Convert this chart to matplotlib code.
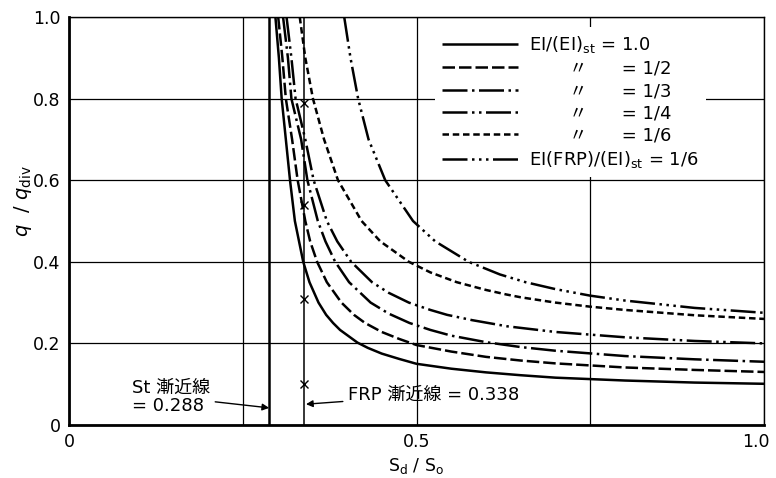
import matplotlib
matplotlib.use('Agg')
import matplotlib.pyplot as plt
import matplotlib.transforms as mtransforms

plt.rcParams['font.family'] = ['DejaVu Sans', 'Noto Sans CJK JP']
plt.rcParams['mathtext.fontset'] = 'dejavusans'

# asymptotes
st_asym = 0.288
frp_asym = 0.338
frp_marks_q = [0.79, 0.54, 0.31, 0.10]

# EI/(EI)st = 1.0
x_10 = [0.297, 0.302, 0.306, 0.312, 0.318, 0.325, 0.331, 0.337, 0.346, 0.359, 0.370, 0.380, 0.390,
        0.415, 0.430, 0.450, 0.475, 0.500, 0.550, 0.600, 0.650, 0.700, 0.800, 0.900, 1.000]
q_10 = [1.00, 0.90, 0.80, 0.70, 0.60, 0.50, 0.45, 0.40, 0.35, 0.30, 0.27, 0.25, 0.233,
        0.202, 0.189, 0.175, 0.162, 0.150, 0.138, 0.129, 0.122, 0.116, 0.109, 0.104, 0.101]

# 1/2
x_12 = [0.301, 0.307, 0.312, 0.321, 0.329, 0.340, 0.347, 0.357, 0.371, 0.392, 0.410, 0.426,
        0.450, 0.475, 0.500, 0.550, 0.600, 0.650, 0.700, 0.800, 0.900, 1.000]
q_12 = [1.00, 0.90, 0.80, 0.70, 0.60, 0.50, 0.45, 0.40, 0.35, 0.30, 0.27, 0.25,
        0.228, 0.211, 0.196, 0.180, 0.167, 0.158, 0.151, 0.141, 0.135, 0.130]

# 1/3
x_13 = [0.308, 0.315, 0.320, 0.334, 0.343, 0.358, 0.369, 0.383, 0.403, 0.434, 0.460, 0.490,
        0.520, 0.550, 0.600, 0.650, 0.700, 0.800, 0.900, 1.000]
q_13 = [1.00, 0.90, 0.80, 0.70, 0.60, 0.50, 0.45, 0.40, 0.35, 0.30, 0.273, 0.25,
        0.233, 0.219, 0.203, 0.191, 0.182, 0.169, 0.161, 0.155]

# 1/4
x_14 = [0.313, 0.320, 0.326, 0.340, 0.352, 0.371, 0.386, 0.406, 0.436, 0.460, 0.489, 0.520,
        0.544, 0.580, 0.630, 0.700, 0.800, 0.900, 1.000]
q_14 = [1.00, 0.90, 0.80, 0.70, 0.60, 0.50, 0.45, 0.40, 0.35, 0.324, 0.30, 0.282,
        0.27, 0.257, 0.242, 0.228, 0.215, 0.206, 0.200]

# 1/6 (steel)
x_16 = [0.332, 0.340, 0.351, 0.367, 0.387, 0.421, 0.448, 0.489, 0.520, 0.558, 0.600, 0.629,
        0.650, 0.700, 0.750, 0.800, 0.900, 1.000]
q_16 = [1.00, 0.90, 0.80, 0.70, 0.60, 0.50, 0.45, 0.40, 0.374, 0.35, 0.331, 0.32,
        0.313, 0.300, 0.290, 0.282, 0.269, 0.260]

# EI(FRP)/(EI)st = 1/6
x_frp = [0.396, 0.405, 0.416, 0.431, 0.455, 0.495, 0.527, 0.575, 0.620, 0.657, 0.700, 0.750,
         0.800, 0.900, 1.000]
q_frp = [1.00, 0.90, 0.80, 0.70, 0.60, 0.50, 0.45, 0.40, 0.369, 0.35, 0.333, 0.317,
         0.305, 0.287, 0.275]

labels = ['EI/(EI)$_{\\rm st}$ = 1.0',
          '       〃      = 1/2',
          '       〃      = 1/3',
          '       〃      = 1/4',
          '       〃      = 1/6',
          'EI(FRP)/(EI)$_{\\rm st}$ = 1/6']

lw = 1.8
long_d, gap, dot = 10, 1.8, 1.0
styles = [
    dict(linestyle='-'),
    dict(dashes=(5, 1.6)),
    dict(dashes=(long_d, gap, dot, gap)),
    dict(dashes=(long_d, gap, dot, gap, dot, gap)),
    dict(dashes=(2.6, 1.5)),
    dict(dashes=(long_d, gap, dot, gap, dot, gap, dot, gap)),
]
series = [(x_10, q_10), (x_12, q_12), (x_13, q_13), (x_14, q_14), (x_16, q_16), (x_frp, q_frp)]

fig = plt.figure(figsize=(7.76, 4.78), dpi=100)
ax = fig.add_axes([69 / 776, 1 - 425 / 478, 695 / 776, 408 / 478])

handles = []
for (xs, qs), st, lab in zip(series, styles, labels):
    h, = ax.plot(xs, qs, color='black', lw=lw, label=lab, solid_capstyle='butt', **st)
    handles.append(h)

# asymptote lines
ax.axvline(st_asym, color='black', lw=1.8, zorder=3)
ax.axvline(frp_asym, color='black', lw=1.1, zorder=3)
ax.plot([frp_asym] * len(frp_marks_q), frp_marks_q, linestyle='none', marker='x',
        color='black', ms=6, mew=1.0, zorder=4)

ax.set_xlim(0, 1.0)
ax.set_ylim(0, 1.0)
ax.set_xticks([0, 0.5, 1.0])
ax.set_xticklabels(['0', '0.5', '1.0'])
ax.set_xticks([0.25, 0.75], minor=True)
ax.set_yticks([0, 0.2, 0.4, 0.6, 0.8, 1.0])
ax.set_yticklabels(['0', '0.2', '0.4', '0.6', '0.8', '1.0'])
ax.tick_params(axis='both', which='both', length=0, labelsize=12.5, colors='black')
ax.tick_params(axis='x', pad=6)
ax.tick_params(axis='y', pad=6)
ax.grid(True, which='both', color='black', lw=0.9, zorder=0)
ax.set_axisbelow(True)

# keep the last x tick label inside the figure
last = ax.get_xticklabels()[-1]
last.set_transform(last.get_transform() + mtransforms.ScaledTranslation(-6 / 72, 0, fig.dpi_scale_trans))

for side in ['left', 'bottom']:
    ax.spines[side].set_linewidth(2.0)
for side in ['top', 'right']:
    ax.spines[side].set_linewidth(1.0)

ax.set_xlabel('S$_{\\rm d}$ / S$_{\\rm o}$', fontsize=12.5)
ax.xaxis.set_label_coords(0.5, -0.075)
ax.set_ylabel('$q$  / $q_{\\rm div}$', fontsize=14)
ax.yaxis.set_label_coords(-0.05, 0.55)

leg = ax.legend(handles=handles, loc='upper left', bbox_to_anchor=(0.527, 0.975),
                frameon=True, fancybox=False, fontsize=13, handlelength=4.2,
                handletextpad=0.6, labelspacing=0.24, borderpad=0.4, borderaxespad=0)
leg.get_frame().set_edgecolor('none')
leg.get_frame().set_facecolor('white')
leg.get_frame().set_alpha(1.0)

ax.annotate('St 漸近線\n= 0.288', xy=(st_asym, 0.042), xytext=(0.09, 0.069),
            fontsize=13, ha='left', va='center', linespacing=1.0,
            arrowprops=dict(arrowstyle='-|>', color='black', lw=1.0,
                            mutation_scale=10, shrinkA=2, shrinkB=0))
ax.annotate('FRP 漸近線 = 0.338', xy=(frp_asym + 0.003, 0.051), xytext=(0.402, 0.074),
            fontsize=13, ha='left', va='center',
            arrowprops=dict(arrowstyle='-|>', color='black', lw=1.0,
                            mutation_scale=10, shrinkA=2, shrinkB=0))

fig.savefig('out.png', dpi=100)
